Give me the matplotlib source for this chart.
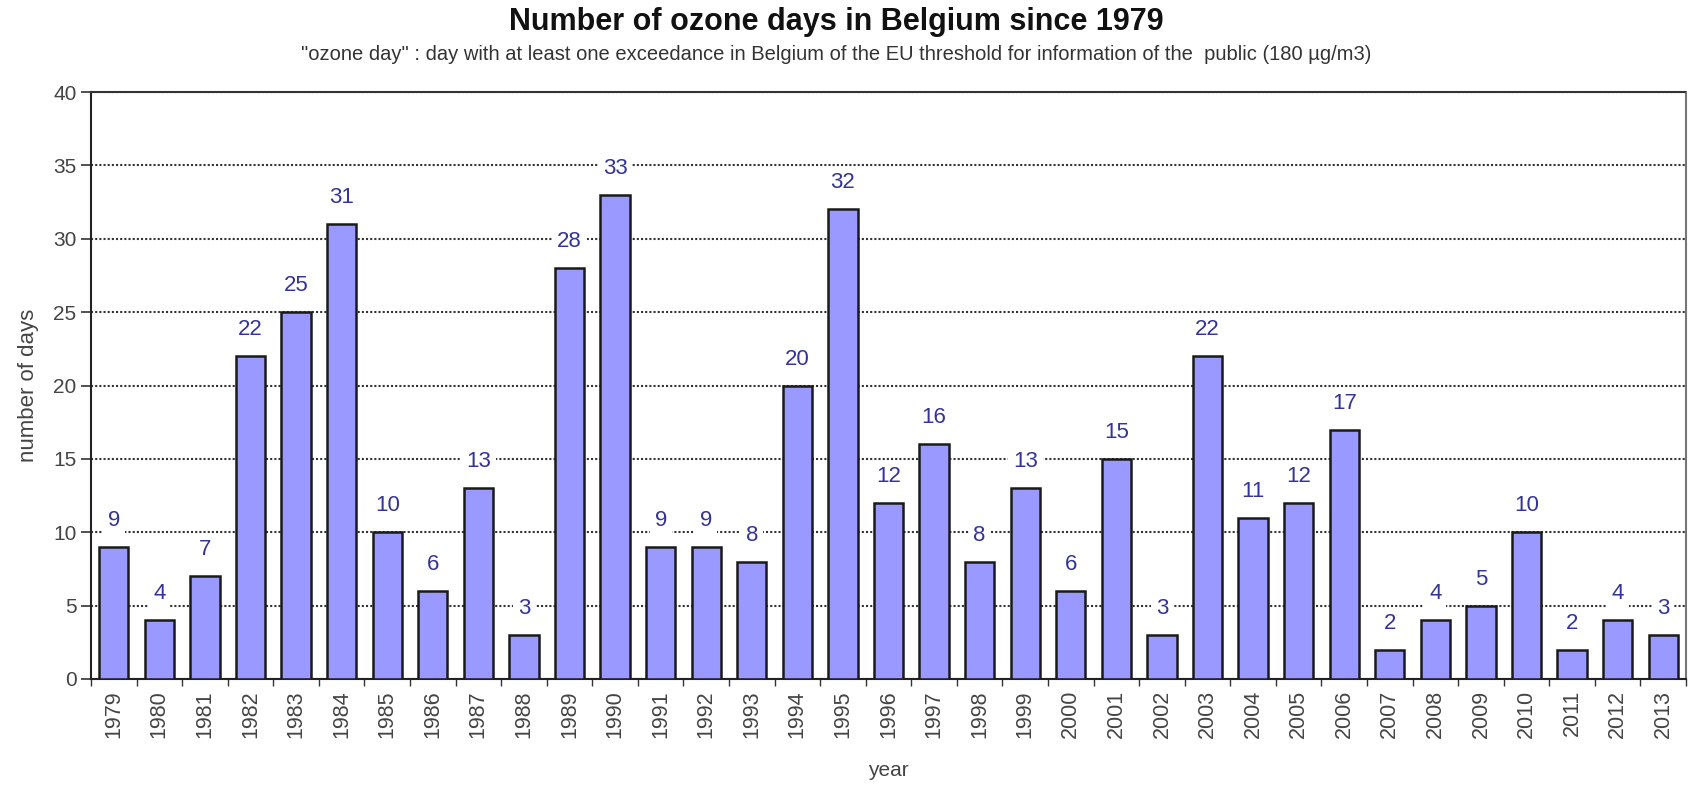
import matplotlib.pyplot as plt
import numpy as np

plt.rcParams["font.family"] = ["Liberation Sans", "DejaVu Sans"]

# ── Data ──────────────────────────────────────────────────────────────
years = [str(y) for y in range(1979, 2014)]
ozone_days = [9, 4, 7, 22, 25, 31, 10, 6, 13, 3,
              28, 33, 9, 9, 8, 20, 32, 12, 16, 8,
              13, 6, 15, 3, 22, 11, 12, 17, 2, 4,
              5, 10, 2, 4, 3]

TITLE = "Number of ozone days in Belgium since 1979"
SUBTITLE = ('"ozone day" : day with at least one exceedance in Belgium of the EU '
            'threshold for information of the  public (180 µg/m3)')

# ── Figure ────────────────────────────────────────────────────────────
fig = plt.figure(figsize=(16.92, 7.89), dpi=100)
ax = fig.add_axes([91 / 1692, 1 - 679 / 789, (1686 - 91) / 1692, (679 - 92) / 789])

x = np.arange(len(years))
ax.bar(x, ozone_days, width=0.64, color="#9999FF", edgecolor="#1a1a1a",
       linewidth=1.8, zorder=3)

for xi, v in zip(x, ozone_days):
    ax.text(xi, v + 1.8, str(v), ha="center", va="center", fontsize=16,
            color="#333399", fontweight="medium", zorder=4,
            bbox=dict(facecolor="white", edgecolor="none", pad=3.5))

ax.set_xlim(-0.5, len(years) - 0.5)
ax.set_ylim(0, 40)
ax.set_yticks(range(0, 41, 5))
ax.yaxis.grid(True, linestyle=(0, (1, 1)), color="#333333", linewidth=1.5, zorder=0)

ax.set_xticks(x)
ax.set_xticklabels(years, rotation=90, fontsize=15.5, color="#444444")
ax.set_xticks(np.arange(-0.5, len(years), 1), minor=True)
ax.tick_params(axis="x", which="major", length=0, pad=8)
ax.tick_params(axis="x", which="minor", length=5, width=1, color="#333333")
ax.tick_params(axis="y", labelsize=15, labelcolor="#444444", length=7,
               width=1.2, color="#333333", direction="out")

for side in ("left", "bottom"):
    ax.spines[side].set_color("#222222")
    ax.spines[side].set_linewidth(1.5)
ax.spines["top"].set_color("#333333")
ax.spines["top"].set_linewidth(1.5)
ax.spines["top"].set_linestyle((0, (1, 1)))
ax.spines["right"].set_color("#777777")
ax.spines["right"].set_linewidth(1.5)

ax.set_xlabel("year", fontsize=15, color="#444444", labelpad=16)
ax.set_ylabel("number of days", fontsize=16, color="#444444", labelpad=10)

fig.text(0.494, 1 - 22 / 789, TITLE, ha="center", va="center",
         fontsize=22, fontweight="bold", color="#111111")
fig.text(0.494, 1 - 54 / 789, SUBTITLE, ha="center", va="center",
         fontsize=14.5, color="#333333")

fig.savefig("out.png", dpi=100, facecolor="white")
